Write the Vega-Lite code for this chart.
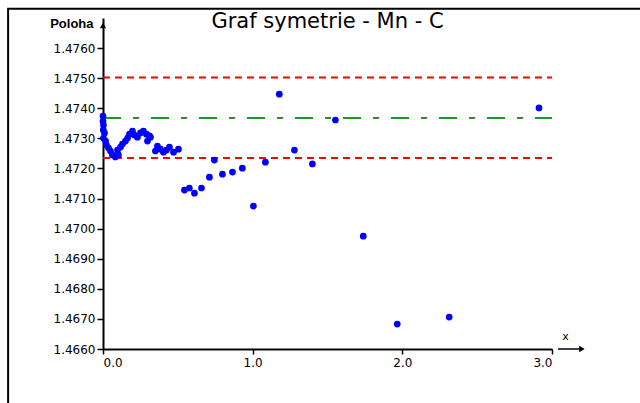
{
  "$schema": "https://vega.github.io/schema/vega-lite/v6.json",
  "width": 449,
  "height": 331,
  "autosize": {"type": "none"},
  "padding": {"left": 103, "top": 18, "right": 88, "bottom": 54},
  "background": "white",
  "config": {"view": {"stroke": null}, "axis": {"grid": false, "labelOverlap": false}},
  "title": {"text": "Graf symetrie - Mn - C", "font": "DejaVu Sans", "fontSize": 21, "fontWeight": "normal", "anchor": "middle", "baseline": "middle", "frame": "group", "offset": 0, "dy": 35, "color": "#000"},
  "datasets": {
    "pts": [
      {"x": 0.000, "y": 1.47374}, {"x": 0.000, "y": 1.47357}, {"x": 0.003, "y": 1.47344}, {"x": 0.002, "y": 1.47328},
      {"x": 0.010, "y": 1.47318}, {"x": 0.003, "y": 1.47301}, {"x": 0.017, "y": 1.47291}, {"x": 0.023, "y": 1.47278},
      {"x": 0.037, "y": 1.47268}, {"x": 0.050, "y": 1.47258}, {"x": 0.063, "y": 1.47245}, {"x": 0.083, "y": 1.47238},
      {"x": 0.103, "y": 1.47245}, {"x": 0.097, "y": 1.47261}, {"x": 0.117, "y": 1.47271}, {"x": 0.130, "y": 1.47281},
      {"x": 0.150, "y": 1.47291}, {"x": 0.164, "y": 1.47301}, {"x": 0.177, "y": 1.47314}, {"x": 0.197, "y": 1.47324},
      {"x": 0.210, "y": 1.47311}, {"x": 0.230, "y": 1.47304}, {"x": 0.250, "y": 1.47318}, {"x": 0.270, "y": 1.47324},
      {"x": 0.290, "y": 1.47314}, {"x": 0.310, "y": 1.47308}, {"x": 0.297, "y": 1.47291}, {"x": 0.317, "y": 1.47304},
      {"x": 0.350, "y": 1.47258}, {"x": 0.364, "y": 1.47274}, {"x": 0.384, "y": 1.47264}, {"x": 0.404, "y": 1.47254},
      {"x": 0.424, "y": 1.47261}, {"x": 0.444, "y": 1.47271}, {"x": 0.471, "y": 1.47254}, {"x": 0.504, "y": 1.47264},
      {"x": 0.544, "y": 1.47128}, {"x": 0.577, "y": 1.47135}, {"x": 0.611, "y": 1.47118}, {"x": 0.658, "y": 1.47135},
      {"x": 0.711, "y": 1.47171}, {"x": 0.744, "y": 1.47228}, {"x": 0.798, "y": 1.47181}, {"x": 0.865, "y": 1.47188},
      {"x": 0.931, "y": 1.47201}, {"x": 1.005, "y": 1.47075}, {"x": 1.085, "y": 1.47221}, {"x": 1.178, "y": 1.47447},
      {"x": 1.279, "y": 1.47261}, {"x": 1.399, "y": 1.47215}, {"x": 1.553, "y": 1.47361}, {"x": 1.739, "y": 1.46975},
      {"x": 1.966, "y": 1.46683}, {"x": 2.313, "y": 1.46706}, {"x": 2.913, "y": 1.47401}
    ],
    "limits": [{"x": 0, "x2": 3.0, "y": 1.47502}, {"x": 0, "x2": 3.0, "y": 1.47235}],
    "center": [{"x": 0, "x2": 3.0, "y": 1.47368}],
    "frame": [{"x": -0.634, "x2": 3.6, "y": 1.4640, "y2": 1.47731}],
    "xarrow": [{"x": 3.04, "x2": 3.2, "y": 1.4660}],
    "xhead": [{"x": 3.2, "y": 1.4660}],
    "yhead": [{"x": 0, "y": 1.47675}]
  },
  "encoding": {
    "x": {"field": "x", "type": "quantitative", "scale": {"domain": [0, 3.0], "nice": false, "zero": false},
          "axis": {"values": [0, 1, 2, 3], "format": ".1f", "tickSize": 5, "labelPadding": 3, "labelFont": "DejaVu Sans", "labelFontSize": 12, "labelColor": "#000", "labelOverlap": false, "domainColor": "#000", "domainWidth": 2, "tickColor": "#000", "tickWidth": 1.5,
                   "title": "x", "titleAngle": 0, "titleX": 462, "titleY": -13, "titleAlign": "center", "titleBaseline": "middle", "titleFont": "DejaVu Sans", "titleFontSize": 11, "titleFontWeight": "normal", "titleColor": "#000"}},
    "y": {"field": "y", "type": "quantitative", "scale": {"domain": [1.466, 1.477], "nice": false, "zero": false},
          "axis": {"values": [1.466, 1.467, 1.468, 1.469, 1.47, 1.471, 1.472, 1.473, 1.474, 1.475, 1.476], "format": ".4f", "tickSize": 6, "labelPadding": 2, "labelFont": "DejaVu Sans", "labelFontSize": 12, "labelColor": "#000", "labelOverlap": false, "domainColor": "#000", "domainWidth": 2, "tickColor": "#000", "tickWidth": 1.5,
                   "title": "Poloha", "titleAngle": 0, "titleAlign": "right", "titleBaseline": "middle", "titleX": -10, "titleY": 5, "titleFont": "Liberation Sans", "titleFontSize": 13, "titleFontWeight": "bold", "titleColor": "#000"}}
  },
  "layer": [
    {
      "data": {"name": "frame"},
      "mark": {"type": "rect", "fill": null, "stroke": "#000", "strokeWidth": 2},
      "encoding": {"x2": {"field": "x2"}, "y2": {"field": "y2"}}
    },
    {
      "data": {"name": "limits"},
      "mark": {"type": "rule", "color": "#ff0000", "strokeWidth": 2, "strokeDash": [7, 5]},
      "encoding": {"x2": {"field": "x2"}}
    },
    {
      "data": {"name": "center"},
      "mark": {"type": "rule", "color": "#1f9a1f", "strokeWidth": 2, "strokeDash": [18, 12, 6, 12]},
      "encoding": {"x2": {"field": "x2"}}
    },
    {
      "data": {"name": "xarrow"},
      "mark": {"type": "rule", "color": "#000", "strokeWidth": 1.5},
      "encoding": {"x2": {"field": "x2"}}
    },
    {
      "data": {"name": "xhead"},
      "mark": {"type": "point", "shape": "triangle-right", "filled": true, "color": "#000", "size": 40, "opacity": 1},
      "encoding": {}
    },
    {
      "data": {"name": "yhead"},
      "mark": {"type": "point", "shape": "triangle-up", "filled": true, "color": "#000", "size": 40, "opacity": 1},
      "encoding": {}
    },
    {
      "data": {"name": "pts"},
      "mark": {"type": "point", "shape": "circle", "filled": true, "color": "#0000ff", "size": 45, "opacity": 1},
      "encoding": {}
    }
  ]
}
